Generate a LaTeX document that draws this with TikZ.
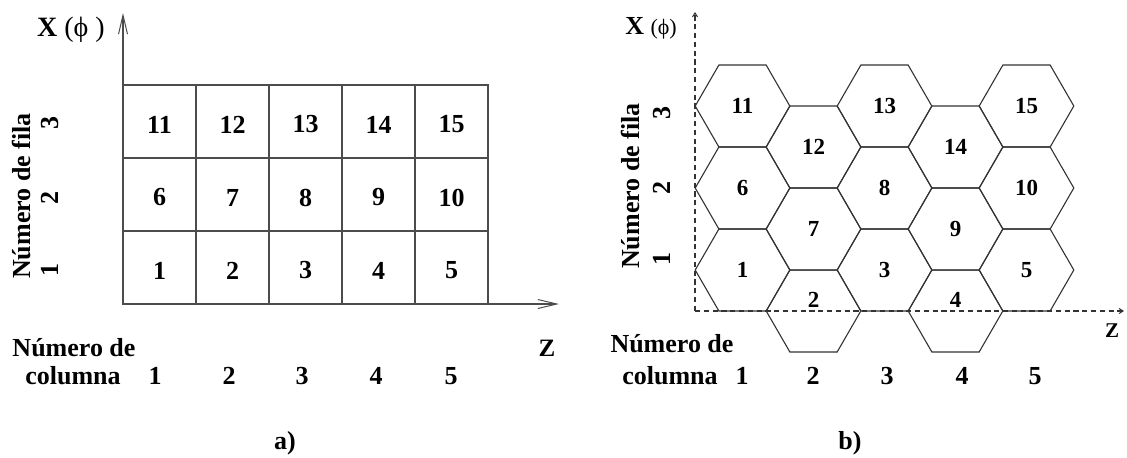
\documentclass[tikz,border=0pt]{standalone}
\usepackage{fontspec}
\setmainfont{Liberation Serif}
\usetikzlibrary{arrows.meta,shapes.geometric}

\begin{document}
\begin{tikzpicture}[x=0.5pt,y=-0.5pt,
  lab/.style={font=\fontsize{13}{15}\selectfont\bfseries, inner sep=0pt},
  num/.style={font=\fontsize{13}{15}\selectfont\bfseries, inner sep=0pt},
  hexnum/.style={font=\fontsize{11.5}{14}\selectfont\bfseries, inner sep=0pt},
  cellbox/.style={draw=black!70, line width=0.65pt, minimum width=36.5pt,
    minimum height=36.5pt, inner sep=0pt, outer sep=0pt},
  hexcell/.style={regular polygon, regular polygon sides=6, minimum size=47.3pt,
    draw=black!80, line width=0.55pt, inner sep=0pt, outer sep=0pt},
  axisa/.style={draw=black!70, line width=0.6pt,
    -{Straight Barb[length=9.5pt,width=4.5pt,line width=0.5pt]}},
  axisb/.style={draw=black!80, line width=0.55pt, dash pattern=on 2.6pt off 1.8pt,
    -{Straight Barb[length=2pt,width=2.5pt,line width=0.5pt]}}
]
\useasboundingbox (0,0) rectangle (1127,457);

% ---------- a) rectangular cells ----------
\foreach \r in {1,2,3}{
  \foreach \c in {1,...,5}{
    \pgfmathtruncatemacro{\n}{5*(\r-1)+\c}
    \node[cellbox] (c\n) at ({159.5+73*(\c-1)},{267.5-73*(\r-1)}) {};
    \node[num] (t\n) at ([yshift=-1.5pt]c\n.center) {\n};
  }
}
\coordinate (oa) at (123,304);
\coordinate (ya) at (123,13);
\coordinate (za) at (559,304);
\draw[axisa] (oa) -- (ya);
\draw[axisa] (oa) -- (za);

\node[font=\fontsize{14}{16}\selectfont, inner sep=0pt] (xa) at (71,30)
  {\textbf{X} (ϕ )};
\node[lab, anchor=base] (zla) at (547,356) {\fontsize{12.5}{14}\selectfont Z};
\node[lab, rotate=90] (fla) at (22,196) {Número de fila};
\node[lab, rotate=90] (ra3) at (50,123) {3};
\node[lab, rotate=90] (ra2) at (50,198) {2};
\node[lab, rotate=90] (ra1) at (50,270) {1};
\node[lab, anchor=base] (cla) at (74,356) {Número de};
\node[lab, anchor=base] (clb) at (73,384) {columna};
\foreach \c/\x in {1/155,2/229,3/302,4/376,5/451}{
  \node[lab, anchor=base] (ka\c) at (\x,384) {\c};
}
\node[lab, anchor=base] (capa) at (285,449) {a)};

% ---------- b) hexagonal cells ----------
\foreach \r in {1,2,3}{
  \foreach \k in {1,...,5}{
    \pgfmathtruncatemacro{\n}{5*(\r-1)+\k}
    \pgfmathsetmacro{\yy}{(isodd(\k) ? 270 : 311) - 82*(\r-1)}
    \node[hexcell] (h\n) at ({742.5+71*(\k-1)},\yy) {};
  }
}
\foreach \n in {1,3,5,6,7,8,9,10,11,12,13,14,15}{
  \node[hexnum] (s\n) at (h\n.center) {\n};
}
\node[hexnum] (s2) at ([yshift=5.5pt]h2.center) {2};
\node[hexnum] (s4) at ([yshift=5.5pt]h4.center) {4};

\coordinate (ob) at (695,311);
\coordinate (yb) at (695,12);
\coordinate (zb) at (1124,311);
\draw[axisb] (ob) -- (yb);
\draw[axisb] (ob) -- (zb);

\node[inner sep=0pt] (xb) at (651,28)
  {\fontsize{13}{15}\selectfont\textbf{X} \fontsize{11}{13}\selectfont(ϕ)};
\node[lab, anchor=base] (zlb) at (1112,337) {\fontsize{10.5}{12}\selectfont Z};
\node[lab, rotate=90] (flb) at (630,186) {Número de fila};
\node[lab, rotate=90] (rb3) at (662,113) {3};
\node[lab, rotate=90] (rb2) at (662,188) {2};
\node[lab, rotate=90] (rb1) at (662,259) {1};
\node[lab, anchor=base] (clc) at (672,352) {Número de};
\node[lab, anchor=base] (cld) at (670,384) {columna};
\foreach \c/\x in {1/742,2/813,3/887,4/962,5/1035}{
  \node[lab, anchor=base] (kb\c) at (\x,384) {\c};
}
\node[lab, anchor=base] (capb) at (850,449) {b)};
\end{tikzpicture}
\end{document}
